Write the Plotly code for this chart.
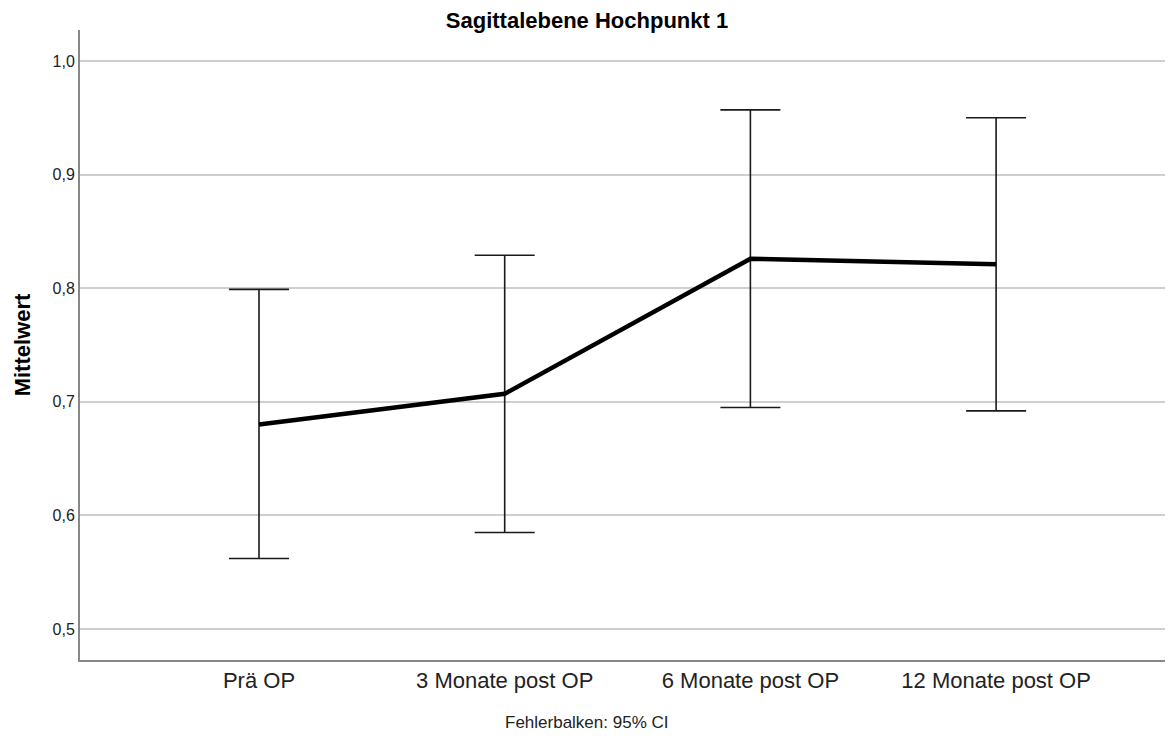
import plotly.graph_objects as go

categories = ["Prä OP", "3 Monate post OP", "6 Monate post OP", "12 Monate post OP"]
means = [0.680, 0.707, 0.826, 0.821]
ci_upper = [0.799, 0.829, 0.957, 0.950]
ci_lower = [0.562, 0.585, 0.695, 0.692]
y_ticks = [0.5, 0.6, 0.7, 0.8, 0.9, 1.0]
y_ticktext = ["0,5", "0,6", "0,7", "0,8", "0,9", "1,0"]

err_plus = [u - m for u, m in zip(ci_upper, means)]
err_minus = [m - l for m, l in zip(means, ci_lower)]

fig = go.Figure()
fig.add_trace(go.Scatter(
    x=categories, y=means, mode="lines",
    line=dict(color="black", width=4.5),
    error_y=dict(type="data", symmetric=False, array=err_plus, arrayminus=err_minus,
                 color="#1a1a1a", thickness=1.6, width=30),
    showlegend=False,
))

fig.update_layout(
    width=1165, height=724,
    margin=dict(l=72, r=0, t=22, b=72),
    paper_bgcolor="white", plot_bgcolor="white",
    font=dict(family="Liberation Sans, Arial, sans-serif", color="black"),
    title=dict(text="<b>Sagittalebene Hochpunkt 1</b>", x=(587 - 8) / 1165, xanchor="center",
               y=1 - 12 / 724, yanchor="middle", font=dict(size=22)),
    xaxis=dict(
        type="category", range=[-0.7285, 3.72],
        showgrid=False, showline=True, linecolor="#888888", linewidth=2,
        ticks="", tickfont=dict(size=22, color="#222"), mirror=False,
        zeroline=False,
    ),
    yaxis=dict(
        range=[0.4727, 1.0273], tickvals=y_ticks, ticktext=y_ticktext,
        showgrid=True, gridcolor="#cfcfcf", gridwidth=1.5,
        showline=True, linecolor="#888888", linewidth=2,
        ticks="", tickfont=dict(size=16, color="#222"), zeroline=False,
        title=dict(text="<b>Mittelwert</b>", font=dict(size=22), standoff=16),
    ),
    annotations=[dict(
        text="Fehlerbalken: 95% CI", xref="paper", yref="paper",
        x=(586.5 - 80) / 1093, y=-(714 - 652) / 630, xanchor="center", yanchor="middle",
        showarrow=False, font=dict(size=17, color="#222"),
    )],
)

fig.write_html("out.html")
